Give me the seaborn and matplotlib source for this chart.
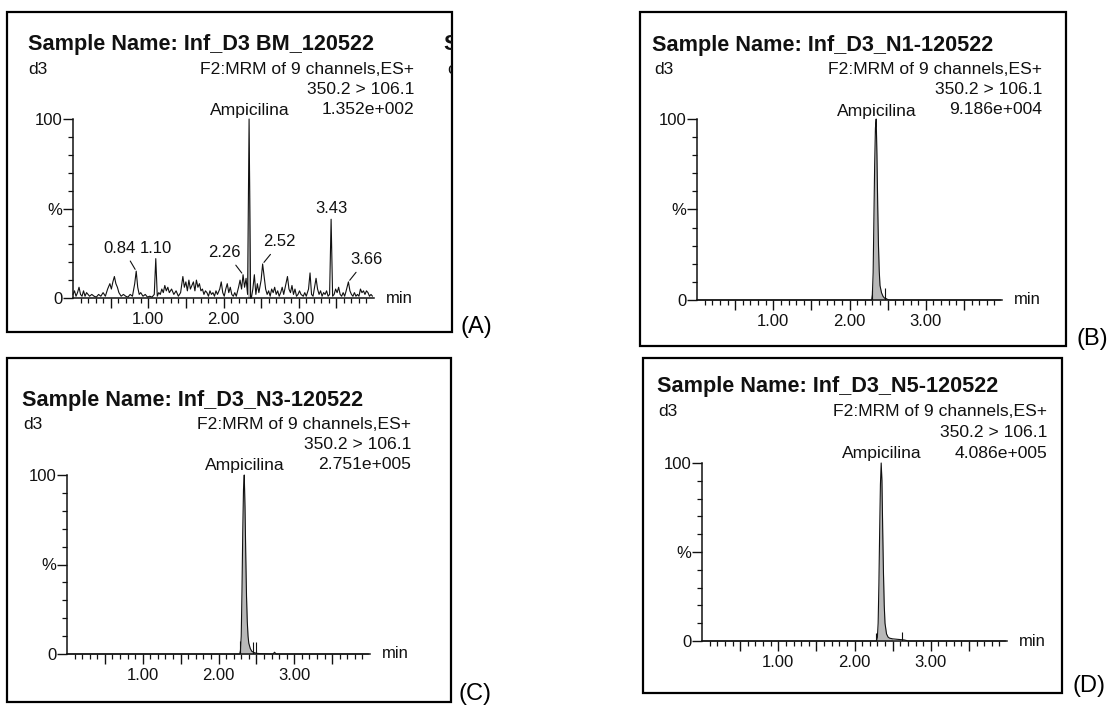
import numpy as np
import pandas as pd
import matplotlib
matplotlib.use("Agg")
import matplotlib.pyplot as plt
import seaborn as sns
from matplotlib.patches import Rectangle
from matplotlib.ticker import FixedLocator, FixedFormatter, NullFormatter
from matplotlib.transforms import Bbox, TransformedBbox

# ---------------- data ----------------
sample_names = ["Inf_D3 BM_120522", "Inf_D3_N1-120522", "Inf_D3_N3-120522", "Inf_D3_N5-120522"]
panel_letters = ["(A)", "(B)", "(C)", "(D)"]
scale_labels = ["1.352e+002", "9.186e+004", "2.751e+005", "4.086e+005"]
function_label = "d3"
channel_label = "F2:MRM of 9 channels,ES+"
transition_label = "350.2 > 106.1"
compound_label = "Ampicilina"
x_tick_values = [1.0, 2.0, 3.0]
x_tick_labels = ["1.00", "2.00", "3.00"]
y_tick_labels = {0: "0", 50: "%", 100: "100"}

time_A = [0.00, 0.02, 0.04, 0.06, 0.08, 0.10, 0.12, 0.14, 0.16, 0.18, 0.20, 0.22, 0.25, 0.28,
          0.31, 0.34, 0.37, 0.40, 0.43, 0.46, 0.49, 0.51, 0.53, 0.55, 0.57, 0.59, 0.61, 0.64,
          0.67, 0.70, 0.73, 0.76, 0.79, 0.82, 0.84, 0.86, 0.88, 0.90, 0.93, 0.96, 0.99, 1.02,
          1.05, 1.08, 1.10, 1.12, 1.14, 1.16, 1.18, 1.20, 1.22, 1.24, 1.26, 1.28, 1.31, 1.34,
          1.37, 1.40, 1.43, 1.46, 1.48, 1.50, 1.52, 1.54, 1.56, 1.58, 1.60, 1.62, 1.64, 1.66,
          1.68, 1.70, 1.72, 1.74, 1.76, 1.78, 1.80, 1.82, 1.84, 1.86, 1.88, 1.90, 1.92, 1.95,
          1.97, 1.99, 2.01, 2.03, 2.05, 2.07, 2.09, 2.11, 2.13, 2.15, 2.17, 2.20, 2.22, 2.24,
          2.26, 2.28, 2.30, 2.32, 2.34, 2.36, 2.37, 2.39, 2.41, 2.43, 2.45, 2.47, 2.50, 2.52,
          2.54, 2.56, 2.58, 2.60, 2.62, 2.64, 2.66, 2.68, 2.70, 2.72, 2.74, 2.76, 2.78, 2.80,
          2.83, 2.85, 2.87, 2.89, 2.91, 2.93, 2.95, 2.97, 2.99, 3.01, 3.03, 3.06, 3.08, 3.10,
          3.13, 3.15, 3.17, 3.19, 3.21, 3.23, 3.25, 3.27, 3.29, 3.31, 3.33, 3.35, 3.37, 3.39,
          3.41, 3.43, 3.45, 3.47, 3.49, 3.51, 3.53, 3.55, 3.57, 3.59, 3.61, 3.63, 3.66, 3.68,
          3.70, 3.72, 3.74, 3.76, 3.78, 3.80, 3.82, 3.84, 3.86, 3.88, 3.90, 3.92, 3.94, 3.96, 3.98]
inten_A = [2, 4, 1, 3, 6, 2, 1, 4, 1, 3, 2, 1, 2, 1,
           0.5, 2, 1, 3, 1, 5, 8, 5, 9, 12, 8, 6, 3, 1,
           2, 1, 0.5, 2, 1, 8, 15, 6, 2, 3, 1, 2, 0.5, 1,
           0.5, 2, 22, 1, 3, 2, 5, 3, 7, 4, 6, 3, 5, 2,
           4, 1, 3, 12, 6, 9, 4, 10, 5, 7, 9, 4, 10, 6,
           8, 4, 5, 2, 4, 3, 1, 4, 2, 3, 1, 4, 2, 5,
           9, 3, 1, 5, 8, 3, 6, 2, 1, 3, 1, 6, 10, 5,
           13, 6, 11, 2, 100, 0, 0, 5, 13, 2, 8, 3, 10, 19,
           12, 5, 2, 4, 1, 5, 3, 6, 2, 4, 1, 3, 6, 2,
           8, 12, 5, 3, 7, 2, 5, 1, 2, 4, 2, 1, 3, 1,
           5, 14, 2, 1, 6, 11, 5, 2, 4, 1, 3, 2, 4, 1,
           2, 44, 1, 2, 5, 3, 6, 2, 1, 3, 1, 4, 9, 4,
           2, 1, 3, 1, 2, 1, 5, 3, 4, 2, 4, 3, 1, 2, 1]
peak_rt_A = [0.84, 1.10, 2.26, 2.52, 3.43, 3.66]
peak_pct_A = [15, 22, 13, 19, 44, 9]
peak_text_A = ["0.84", "1.10", "2.26", "2.52", "3.43", "3.66"]

time_B = [0.00, 2.29, 2.30, 2.31, 2.32, 2.33, 2.34, 2.35, 2.36, 2.37, 2.38, 2.39, 2.40,
          2.42, 2.44, 2.46, 2.48, 2.50, 2.53, 3.98]
inten_B = [0, 0, 3, 15, 45, 75, 95, 100, 80, 52, 30, 16, 8,
           4, 2, 1, 0.8, 0.3, 0, 0]
marks_B_time = [2.29, 2.46]
marks_B_height = [5.5, 6.5]

time_C = [0.00, 2.28, 2.29, 2.30, 2.31, 2.32, 2.33, 2.34, 2.35, 2.36, 2.37, 2.38, 2.39,
          2.40, 2.42, 2.44, 2.47, 2.50, 2.55, 2.72, 2.74, 2.76, 3.98]
inten_C = [0, 0, 2, 10, 35, 68, 92, 100, 82, 55, 32, 18, 10,
           6, 3, 1.5, 0.8, 0.4, 0.2, 0, 1.0, 0, 0]
marks_C_time = [2.28, 2.45, 2.49]
marks_C_height = [7, 6.5, 6.5]

time_D = [0.00, 2.29, 2.30, 2.31, 2.32, 2.33, 2.34, 2.35, 2.36, 2.37, 2.38, 2.39, 2.40,
          2.42, 2.44, 2.46, 2.50, 2.55, 2.60, 2.65, 2.68, 2.70, 3.98]
inten_D = [0, 0, 2, 10, 32, 62, 88, 100, 90, 62, 38, 20, 10,
           4, 2.2, 1.6, 1.2, 1.0, 0.8, 0.6, 0.3, 0, 0]
marks_D_time = [2.28, 2.62]
marks_D_height = [4.5, 5]

# ---------------- style / layout ----------------
sns.set_theme(style="white")
plt.rcParams["font.family"] = ["Liberation Sans", "DejaVu Sans"]

W, H = 1115, 711
fig = plt.figure(figsize=(W / 100, H / 100), dpi=100)
fig.patch.set_facecolor("white")


def fx(x):
    return x / W


def fy(y):
    return 1 - y / H


def ftext(x, y, s, **kw):
    return fig.text(fx(x), fy(y), s, **kw)


# frame boxes (left, top, right, bottom) in px
boxes = [(7, 12, 452, 332), (640, 12, 1066, 346), (7, 358, 451, 702), (643, 358, 1062, 693)]
# axes (left, right, y0, y100) in px
axes_px = [(73, 374, 298, 119), (697, 1002, 300, 119), (67, 370, 654, 475), (702, 1007, 641, 463)]
headers = [
    dict(tx=28, ty=50, dx=28, dy=74, rx=414, ry=(74, 94, 114), cx=250, cy=115),
    dict(tx=652, ty=51, dx=654, dy=74, rx=1042, ry=(74, 94, 114), cx=877, cy=116),
    dict(tx=22, ty=406, dx=23, dy=429, rx=411, ry=(429, 449, 469), cx=245, cy=470),
    dict(tx=657, ty=392, dx=658, dy=416, rx=1047, ry=(416, 437, 458), cx=882, cy=458),
]
letter_pos = [(461, 327), (1077, 339), (459, 694), (1072, 686)]

traces = [(time_A, inten_A), (time_B, inten_B), (time_C, inten_C), (time_D, inten_D)]
marks = [None, (marks_B_time, marks_B_height), (marks_C_time, marks_C_height),
         (marks_D_time, marks_D_height)]

HDR = 12.6
TICK = 12.0
TITLE = 15.6
ink = "#111111"

for i in range(4):
    l, t, r, b = boxes[i]
    fig.patches.append(Rectangle((fx(l), fy(b)), fx(r - l), (b - t) / H, transform=fig.transFigure,
                                 fill=False, edgecolor="black", linewidth=1.6, zorder=0))
    al, ar, y0, y100 = axes_px[i]
    ax = fig.add_axes([fx(al), fy(y0), (ar - al) / W, (y0 - y100) / H])
    ax.set_facecolor("none")
    tt, vv = traces[i]
    df = pd.DataFrame({"time": tt, "pct": vv})
    if i == 0:
        sel = df[(df.time >= 2.32) & (df.time <= 2.36)]
    else:
        sel = df[(df.time >= 2.28) & (df.time <= 2.50)]
    ax.fill_between(sel.time, 0, sel.pct, color="#b8b8b8", linewidth=0, zorder=1)
    sns.lineplot(data=df, x="time", y="pct", ax=ax, color=ink, linewidth=0.8,
                 estimator=None, sort=False, zorder=2, clip_on=False)
    if marks[i] is not None:
        mt, mh = marks[i]
        ax.vlines(mt, 0, mh, color=ink, linewidth=0.8, zorder=3)
    ax.set_xlim(0, 4.0)
    ax.set_ylim(0, 100)
    ax.set_xlabel("")
    ax.set_ylabel("")
    for s in ["top", "right"]:
        ax.spines[s].set_visible(False)
    for s in ["left", "bottom"]:
        ax.spines[s].set_color(ink)
        ax.spines[s].set_linewidth(1.1)
    xmaj = [0.5, 1.0, 1.5, 2.0, 2.5, 3.0, 3.5]
    xmin = [k / 10 for k in range(1, 40) if k % 5 != 0]
    ax.xaxis.set_major_locator(FixedLocator(xmaj))
    ax.xaxis.set_major_formatter(FixedFormatter([x_tick_labels[x_tick_values.index(v)] if v in x_tick_values else "" for v in xmaj]))
    ax.xaxis.set_minor_locator(FixedLocator(xmin))
    ax.xaxis.set_minor_formatter(NullFormatter())
    ymaj = [0, 50, 100]
    ymin = [10, 20, 30, 40, 60, 70, 80, 90]
    ax.yaxis.set_major_locator(FixedLocator(ymaj))
    ax.yaxis.set_major_formatter(FixedFormatter([y_tick_labels[v] for v in ymaj]))
    ax.yaxis.set_minor_locator(FixedLocator(ymin))
    ax.yaxis.set_minor_formatter(NullFormatter())
    ax.tick_params(axis="x", which="major", direction="out", length=7, width=1.0, color=ink,
                   labelsize=TICK, pad=3.0, bottom=True, labelcolor=ink)
    ax.tick_params(axis="x", which="minor", direction="out", length=3.6, width=0.9, color=ink, bottom=True)
    ax.tick_params(axis="y", which="major", direction="out", length=7, width=1.0, color=ink,
                   labelsize=TICK, pad=0.5, left=True, labelcolor=ink)
    ax.tick_params(axis="y", which="minor", direction="out", length=3.6, width=0.9, color=ink, left=True)
    ax.grid(False)

    ftext(ar + 12, y0, "min", fontsize=TICK, ha="left", va="center", color=ink)

    h = headers[i]
    ftext(h["tx"], h["ty"], "Sample Name: " + sample_names[i], fontsize=TITLE, fontweight="bold",
          ha="left", va="baseline", color=ink)
    ftext(h["dx"], h["dy"], function_label, fontsize=HDR, ha="left", va="baseline", color=ink)
    ftext(h["rx"], h["ry"][0], channel_label, fontsize=HDR, ha="right", va="baseline", color=ink)
    ftext(h["rx"], h["ry"][1], transition_label, fontsize=HDR, ha="right", va="baseline", color=ink)
    ftext(h["rx"], h["ry"][2], scale_labels[i], fontsize=HDR, ha="right", va="baseline", color=ink)
    ftext(h["cx"], h["cy"], compound_label, fontsize=HDR, ha="center", va="baseline", color=ink)

    lx, ly = letter_pos[i]
    ftext(lx, ly, panel_letters[i], fontsize=17, ha="left", va="center", color="black")

    if i == 0:
        offsets = [(-17, 22.7, (0.75, 0.0), True), (0, 10, None, False), (-18.5, 22, (0.73, 0.0), True),
                   (17, 22, (0.34, 0.0), True), (0, 11, None, False), (18, 22, (0.3, 0.0), True)]
        for rt, pc, lab, (ox, oy, rel, lead) in zip(peak_rt_A, peak_pct_A, peak_text_A, offsets):
            kw = {}
            if lead:
                kw["arrowprops"] = dict(arrowstyle="-", color=ink, lw=0.8, shrinkA=1.5, shrinkB=1.5,
                                        relpos=rel)
            ax.annotate(lab, xy=(rt, pc), xytext=(ox, oy), textcoords="offset pixels",
                        ha="center", va="center", fontsize=TICK, color=ink, **kw)
        clipbox = TransformedBbox(Bbox.from_extents(fx(l), fy(b), fx(r), fy(t)), fig.transFigure)
        s1 = ftext(443, 50, "S", fontsize=TITLE, fontweight="bold", ha="left", va="baseline", color=ink)
        s2 = ftext(447, 74, "c", fontsize=HDR, ha="left", va="baseline", color=ink)
        for s in (s1, s2):
            s.set_clip_box(clipbox)
            s.set_clip_on(True)

fig.savefig("out.png", dpi=100, facecolor="white")
